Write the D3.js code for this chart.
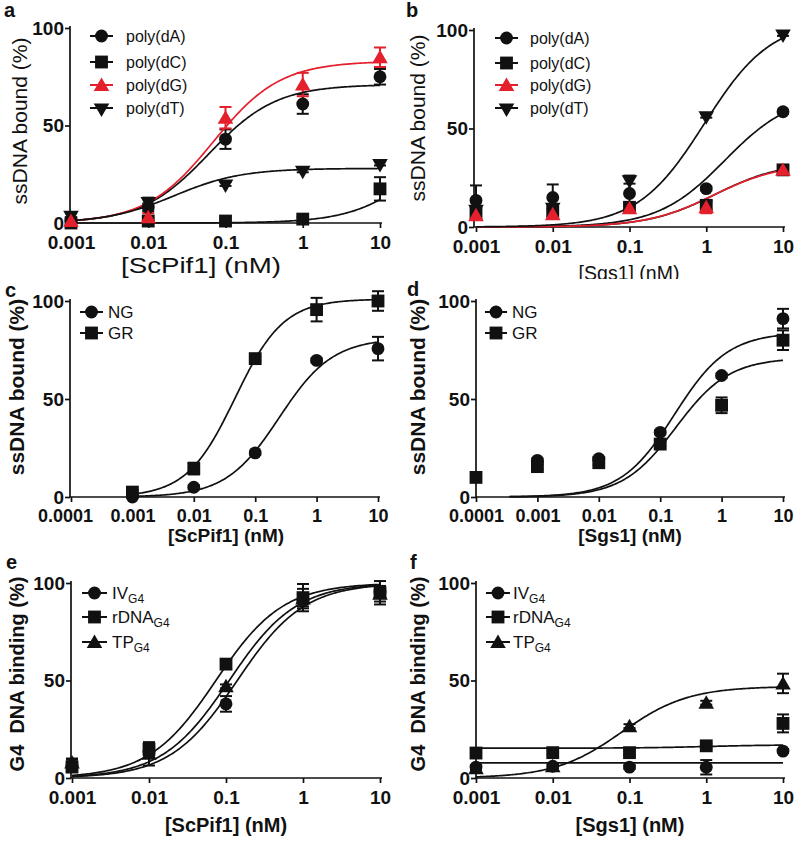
<!DOCTYPE html>
<html><head><meta charset="utf-8">
<script src="https://cdn.jsdelivr.net/npm/d3@7"></script>
<style>
body{margin:0;background:#fff}
svg{display:block}
text{font-family:"Liberation Sans",Arial,Helvetica,sans-serif;fill:#111}
</style>
</head><body><svg id="chart" width="800" height="841"></svg>
<script>
// ================= DATA =================
const conc5 = [0.001, 0.01, 0.1, 1, 10];
const conc6 = [0.0001, 0.001, 0.01, 0.1, 1, 10];
const xTicks5 = [0.001, 0.01, 0.1, 1, 10];
const xTicks6 = [0.0001, 0.001, 0.01, 0.1, 1, 10];
const xTickLabels5 = ["0.001", "0.01", "0.1", "1", "10"];
const xTickLabels6 = ["0.0001", "0.001", "0.01", "0.1", "1", "10"];
const yTicks = [0, 50, 100];

// Panel a: ScPif1, homopolymers
const aPolyA = [1, 8, 43, 61, 75];      const aPolyAErr = [1, 2, 5, 5, 4];
const aPolyC = [0, 1, 1, 2, 17.5];      const aPolyCErr = [0, 0, 0, 1, 6];
const aPolyG = [1, 3, 54, 71, 85];      const aPolyGErr = [1, 2, 5.5, 6, 5];
const aPolyT = [4, 11, 20, 27, 30.5];   const aPolyTErr = [1, 2, 1, 1, 1];
// fit params [bottom, top, EC50, hill]
const aFitA = [0, 71, 0.061, 1];
const aFitC = [0, 54, 35, 1];
const aFitG = [0, 83, 0.069, 1];
const aFitT = [0, 28, 0.0217, 1];

// Panel b: Sgs1, homopolymers
const bPolyA = [13.5, 15, 17, 19.5, 58.5]; const bPolyAErr = [7.6, 6.6, 9, 1, 1];
const bPolyC = [7, 7.6, 10, 11, 29];       const bPolyCErr = [2, 2, 2, 2, 1];
const bPolyG = [6, 6.5, 9.5, 10, 29];      const bPolyGErr = [1, 1, 1, 3, 1];
const bPolyT = [9, 10, 24, 56.5, 98];      const bPolyTErr = [1, 1, 2, 1, 1];
const bFitA = [0, 67.7, 1.75, 1];
const bFitC = [0, 33, 1.3, 1];
const bFitG = [0, 32.4, 1.25, 1];
const bFitT = [0, 105, 0.946, 1];

// Panel c: ScPif1, NG vs GR
const cNG = [0, 5, 22.5, 69.7, 75.7];     const cNGErr = [0, 1, 1, 1, 6];
const cGR = [2.5, 14.5, 70.6, 95.6, 100]; const cGRErr = [1, 3, 1, 6, 5];
const cFitNG = [0, 81, 0.246, 1];
const cFitGR = [0, 101, 0.047, 1.1];

// Panel d: Sgs1, NG vs GR
const dNG = [18.7, 19.5, 33, 62, 91];          const dNGErr = [1, 1, 1, 1, 5];
const dGR = [10, 15.5, 17.5, 27, 46.8, 80];    const dGRErr = [1, 1, 1, 1, 4, 5];
const dFitNG = [0, 84, 0.17, 1];
const dFitGR = [0, 71, 0.18, 1];

// Panel e: ScPif1, G4 DNA
const eIV = [6.3, 13.6, 38, 91, 95.4];    const eIVErr = [3, 2, 4, 3, 3];
const eRD = [5.6, 14.8, 58.4, 92.5, 95];  const eRDErr = [2, 2, 1, 7, 6];
const eTP = [8, 12.4, 47, 92, 94.5];      const eTPErr = [2, 6, 1, 5, 4];
const eFitIV = [0, 100, 0.14, 1];
const eFitRD = [0, 100, 0.074, 1];
const eFitTP = [0, 100, 0.11, 1];

// Panel f: Sgs1, G4 DNA
const fIV = [5.6, 6, 5.6, 5.5, 13.8];     const fIVErr = [1, 1, 1, 3.7, 1];
const fRD = [12.8, 13, 13, 16.5, 28];     const fRDErr = [1, 1, 1, 1, 4.6];
const fTP = [5, 6, 26.6, 38.6, 48.5];     const fTPErr = [1, 1, 1, 1, 5];
const fFitIV = [7.8, 7.8, 1, 1];
const fFitRD = [15.3, 17, 1, 1];
const fFitTP = [0, 47, 0.079, 1];

// ================= DRAWING =================
const BLACK = "#111111", RED = "#e4202c";
const svg = d3.select("#chart");

function fit4(p, x) { return p[0] + (p[1] - p[0]) / (1 + Math.pow(p[2] / x, p[3])); }

const symTypes = {circle: d3.symbolCircle, square: d3.symbolSquare, up: d3.symbolTriangle, down: d3.symbolTriangle};
const symSizes = {circle: 130, square: 165, up: 105, down: 105};
function symPath(shape) { return d3.symbol().type(symTypes[shape]).size(symSizes[shape])(); }
function drawSym(g, shape, cx, cy, color) {
  g.append("path").attr("d", symPath(shape))
    .attr("transform", `translate(${cx},${cy})` + (shape === "down" ? " rotate(180)" : "") + (shape === "up" ? " translate(0,1.5)" : ""))
    .attr("fill", color);
}

function panel(cfg) {
  const g = svg.append("g");
  if (cfg.clipBottom) {
    const id = "clip" + cfg.letter;
    svg.append("clipPath").attr("id", id).append("rect").attr("x", 0).attr("y", 0).attr("width", 800).attr("height", cfg.clipBottom);
    g.attr("clip-path", `url(#${id})`);
  }
  const x = d3.scaleLog().domain(cfg.xDomain).range(cfg.xRange);
  const y = d3.scaleLinear().domain([0, 100]).range(cfg.yRange);
  const y0 = y(0);

  // axis lines
  g.append("line").attr("x1", cfg.axisX).attr("x2", cfg.axisX).attr("y1", y0).attr("y2", y(100) - 2)
    .attr("stroke", BLACK).attr("stroke-width", 1.7);
  g.append("line").attr("x1", cfg.axisX).attr("x2", cfg.xRange[1] + 2).attr("y1", y0).attr("y2", y0)
    .attr("stroke", BLACK).attr("stroke-width", 1.7);

  const yAx = d3.axisLeft(y).tickValues(yTicks).tickSize(5).tickPadding(1).tickFormat(d3.format("d"));
  const ya = g.append("g").attr("transform", `translate(${cfg.axisX},0)`).call(yAx);
  ya.select(".domain").remove();
  ya.selectAll("line").attr("stroke", BLACK).attr("stroke-width", 1.7);
  ya.selectAll("text").attr("font-size", cfg.tickFs).attr("font-weight", "bold").attr("fill", BLACK)
    .style("font-family", '"Liberation Sans",Arial,sans-serif');

  const xAx = d3.axisBottom(x).tickValues(cfg.xTicks).tickSize(5).tickPadding(cfg.xPad)
    .tickFormat((d, i) => cfg.xTickLabels[i]);
  const xa = g.append("g").attr("transform", `translate(0,${y0})`).call(xAx);
  xa.select(".domain").remove();
  xa.selectAll("line").attr("stroke", BLACK).attr("stroke-width", 1.7);
  xa.selectAll("text").attr("font-size", cfg.xTickFs || cfg.tickFs).attr("font-weight", "bold").attr("fill", BLACK)
    .style("font-family", '"Liberation Sans",Arial,sans-serif')
    .attr("dx", (d, i) => (i === 0 && cfg.firstTickShift) ? cfg.firstTickShift : 0);

  // error bars
  cfg.series.forEach(s => {
    s.vals.forEach((v, i) => {
      const e = s.err[i];
      if (!e) return;
      const cx = x(s.conc[i]);
      const eb = g.append("g").attr("stroke", s.color).attr("stroke-width", 2).attr("fill", "none");
      eb.append("line").attr("x1", cx).attr("x2", cx).attr("y1", y(v - e)).attr("y2", y(v + e));
      [v - e, v + e].forEach(t => eb.append("line").attr("x1", cx - 6).attr("x2", cx + 6).attr("y1", y(t)).attr("y2", y(t)));
    });
  });

  // fit curves
  const line = d3.line().x(d => x(d[0])).y(d => y(d[1])).curve(d3.curveLinear);
  const lx0 = Math.log10(cfg.fitRange[0]), lx1 = Math.log10(cfg.fitRange[1]);
  cfg.series.forEach(s => {
    const pts = d3.range(0, 201).map(k => {
      const xv = Math.pow(10, lx0 + (lx1 - lx0) * k / 200);
      return [xv, fit4(s.fit, xv)];
    });
    g.append("path").attr("d", line(pts)).attr("fill", "none").attr("stroke", s.color).attr("stroke-width", 1.7);
  });

  // markers
  cfg.drawOrder.forEach(idx => {
    const s = cfg.series[idx];
    s.vals.forEach((v, i) => drawSym(g, s.shape, x(s.conc[i]), y(v), s.color));
  });

  // legend
  cfg.series.forEach((s, i) => {
    const ly = cfg.legend.rows[i];
    g.append("line").attr("x1", cfg.legend.x0).attr("x2", cfg.legend.x1).attr("y1", ly).attr("y2", ly)
      .attr("stroke", s.color).attr("stroke-width", 2);
    drawSym(g, s.shape, (cfg.legend.x0 + cfg.legend.x1) / 2, ly, s.color);
    const t = g.append("text").attr("x", cfg.legend.tx).attr("y", ly).attr("dy", "0.36em")
      .attr("font-size", cfg.legFs).attr("font-weight", "normal");
    t.append("tspan").text(s.name);
    if (s.sub) {
      t.append("tspan").attr("font-size", 12).attr("dy", 4).text(s.sub);
    }
  });

  // axis titles
  g.append("text").attr("transform", `translate(${cfg.yTitle[0]},${cfg.yTitle[1]}) rotate(-90)`)
    .attr("text-anchor", "middle").attr("dy", "0.35em").attr("font-size", cfg.yTitleFs)
    .attr("font-weight", cfg.titleBold ? "bold" : "normal").style("white-space", "pre").text(cfg.yLabel);
  const xt = g.append("text").attr("x", cfg.xTitle[0]).attr("y", cfg.xTitle[1]).attr("dy", "0.35em")
    .attr("text-anchor", "middle").attr("font-size", cfg.xTitleFs)
    .attr("font-weight", cfg.titleBold ? "bold" : "normal").text(cfg.xLabel);
  if (cfg.xTitleLen) xt.attr("textLength", cfg.xTitleLen).attr("lengthAdjust", "spacingAndGlyphs");

  // panel letter
  svg.append("text").attr("x", cfg.letterPos[0]).attr("y", cfg.letterPos[1]).attr("font-size", 20)
    .attr("font-weight", "bold").text(cfg.letter);
}

function S(name, shape, color, conc, vals, err, fit, sub) { return {name, shape, color, conc, vals, err, fit, sub}; }

// Panel a
panel({
  letter: "a", letterPos: [4, 17],
  xDomain: [0.001, 10], xRange: [71, 380], yRange: [223, 28], axisX: 70,
  xTicks: xTicks5, xTickLabels: xTickLabels5, xPad: 8, tickFs: 19,
  fitRange: [0.001, 10],
  series: [
    S("poly(dA)", "circle", BLACK, conc5, aPolyA, aPolyAErr, aFitA),
    S("poly(dC)", "square", BLACK, conc5, aPolyC, aPolyCErr, aFitC),
    S("poly(dG)", "up", RED, conc5, aPolyG, aPolyGErr, aFitG),
    S("poly(dT)", "down", BLACK, conc5, aPolyT, aPolyTErr, aFitT)
  ],
  drawOrder: [0, 1, 3, 2],
  legend: {rows: [36, 62, 85, 108], x0: 90, x1: 113, tx: 126}, legFs: 16,
  yLabel: "ssDNA bound (%)", xLabel: "[ScPif1] (nM)", yTitleFs: 21, xTitleFs: 22, xTitleLen: 160, titleBold: false,
  yTitle: [20, 121], xTitle: [201, 265]
});

// Panel b
panel({
  letter: "b", letterPos: [406, 17], clipBottom: 279,
  xDomain: [0.001, 10], xRange: [476, 783], yRange: [227, 30], axisX: 474,
  xTicks: xTicks5, xTickLabels: xTickLabels5, xPad: 8, tickFs: 19,
  fitRange: [0.001, 10],
  series: [
    S("poly(dA)", "circle", BLACK, conc5, bPolyA, bPolyAErr, bFitA),
    S("poly(dC)", "square", BLACK, conc5, bPolyC, bPolyCErr, bFitC),
    S("poly(dG)", "up", RED, conc5, bPolyG, bPolyGErr, bFitG),
    S("poly(dT)", "down", BLACK, conc5, bPolyT, bPolyTErr, bFitT)
  ],
  drawOrder: [0, 1, 3, 2],
  legend: {rows: [38, 63, 85, 108], x0: 495, x1: 518, tx: 530}, legFs: 16,
  yLabel: "ssDNA bound (%)", xLabel: "[Sgs1] (nM)", yTitleFs: 21, xTitleFs: 19.5, titleBold: false,
  yTitle: [418, 118], xTitle: [629, 273]
});

// Panel c
panel({
  letter: "c", letterPos: [5, 297],
  xDomain: [0.0001, 10], xRange: [71, 378], yRange: [497, 301], axisX: 70,
  xTicks: xTicks6, xTickLabels: xTickLabels6, xPad: 7, tickFs: 19, xTickFs: 18, firstTickShift: -6,
  fitRange: [0.001, 10],
  series: [
    S("NG", "circle", BLACK, conc5, cNG, cNGErr, cFitNG),
    S("GR", "square", BLACK, conc5, cGR, cGRErr, cFitGR)
  ],
  drawOrder: [0, 1],
  legend: {rows: [312, 333], x0: 80, x1: 103, tx: 108}, legFs: 17,
  yLabel: "ssDNA bound (%)", xLabel: "[ScPif1] (nM)", yTitleFs: 21, xTitleFs: 19, titleBold: true,
  yTitle: [17, 387], xTitle: [226, 535]
});

// Panel d
panel({
  letter: "d", letterPos: [407, 296],
  xDomain: [0.0001, 10], xRange: [476, 783], yRange: [497, 301], axisX: 476,
  xTicks: xTicks6, xTickLabels: xTickLabels6, xPad: 7, tickFs: 19, xTickFs: 18, firstTickShift: 0,
  fitRange: [0.00035, 10],
  series: [
    S("NG", "circle", BLACK, conc5, dNG, dNGErr, dFitNG),
    S("GR", "square", BLACK, conc6, dGR, dGRErr, dFitGR)
  ],
  drawOrder: [1, 0],
  legend: {rows: [312, 333], x0: 485, x1: 507, tx: 512}, legFs: 17,
  yLabel: "ssDNA bound (%)", xLabel: "[Sgs1] (nM)", yTitleFs: 21, xTitleFs: 19, titleBold: true,
  yTitle: [418, 387], xTitle: [630, 535]
});

// Panel e
panel({
  letter: "e", letterPos: [6, 569],
  xDomain: [0.001, 10], xRange: [72, 380], yRange: [778, 583], axisX: 71,
  xTicks: xTicks5, xTickLabels: xTickLabels5, xPad: 8, tickFs: 19,
  fitRange: [0.001, 10],
  series: [
    S("IV", "circle", BLACK, conc5, eIV, eIVErr, eFitIV, "G4"),
    S("rDNA", "square", BLACK, conc5, eRD, eRDErr, eFitRD, "G4"),
    S("TP", "up", BLACK, conc5, eTP, eTPErr, eFitTP, "G4")
  ],
  drawOrder: [2, 0, 1],
  legend: {rows: [593, 617, 642], x0: 82, x1: 107, tx: 112}, legFs: 17,
  yLabel: "G4\u00a0 DNA binding (%)", xLabel: "[ScPif1] (nM)", yTitleFs: 20, xTitleFs: 20, titleBold: true,
  yTitle: [17, 674], xTitle: [226, 825]
});

// Panel f
panel({
  letter: "f", letterPos: [410, 569],
  xDomain: [0.001, 10], xRange: [476, 783], yRange: [778, 583], axisX: 476,
  xTicks: xTicks5, xTickLabels: xTickLabels5, xPad: 8, tickFs: 19,
  fitRange: [0.001, 10],
  series: [
    S("IV", "circle", BLACK, conc5, fIV, fIVErr, fFitIV, "G4"),
    S("rDNA", "square", BLACK, conc5, fRD, fRDErr, fFitRD, "G4"),
    S("TP", "up", BLACK, conc5, fTP, fTPErr, fFitTP, "G4")
  ],
  drawOrder: [2, 0, 1],
  legend: {rows: [593, 617, 642], x0: 486, x1: 510, tx: 513}, legFs: 17,
  yLabel: "G4\u00a0 DNA binding (%)", xLabel: "[Sgs1] (nM)", yTitleFs: 20, xTitleFs: 20, titleBold: true,
  yTitle: [418, 674], xTitle: [630, 825]
});
</script>
</body></html>
